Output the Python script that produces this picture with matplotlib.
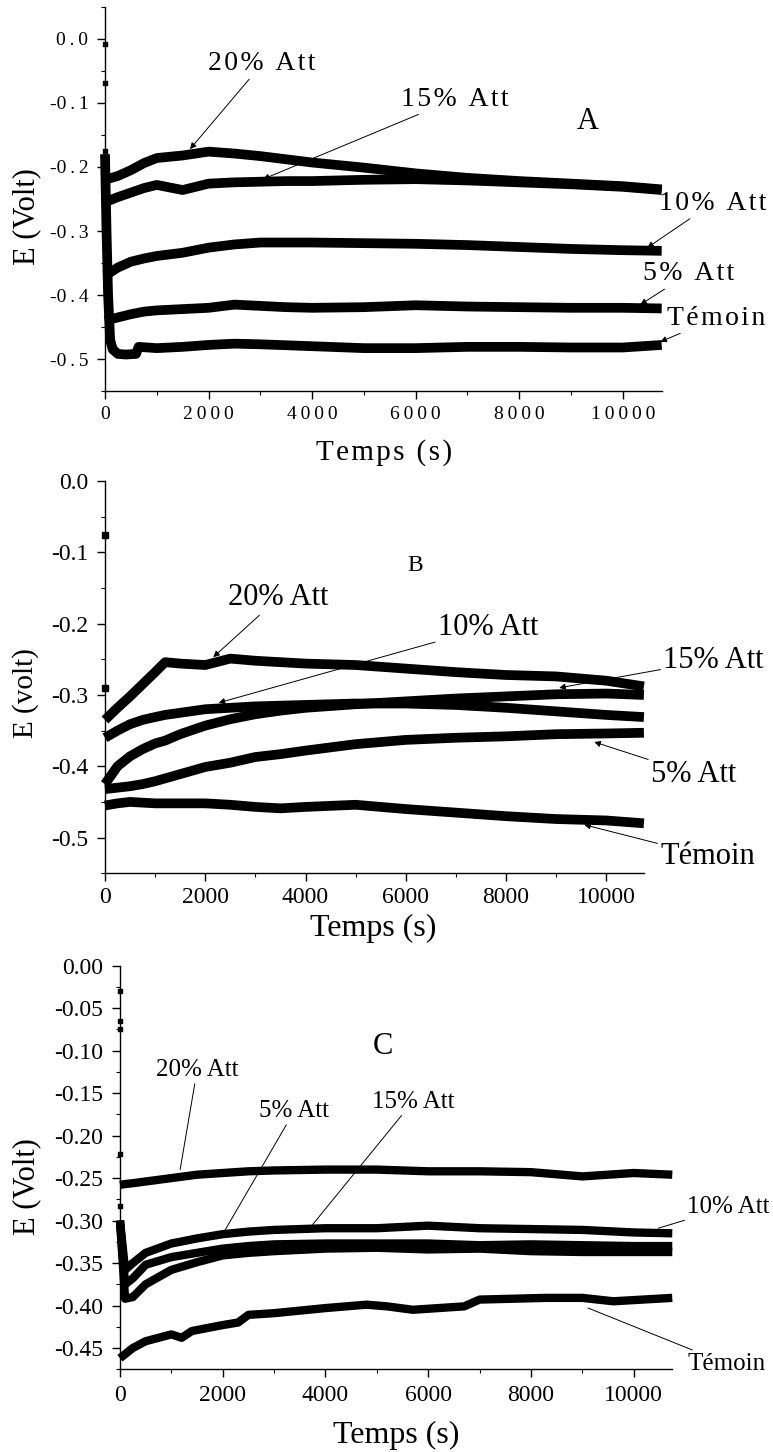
import matplotlib
matplotlib.use("Agg")
import matplotlib.pyplot as plt
from matplotlib.ticker import MultipleLocator, FuncFormatter

plt.rcParams['font.family'] = ['Liberation Serif', 'DejaVu Serif']
plt.rcParams['axes.unicode_minus'] = False

# ---- Panel A ----
tA = [0, 250, 500, 750, 1000, 1500, 2000, 2500, 3000, 3500, 4000, 5000, 6000, 7000, 8000, 9000, 10000, 10750]
a20 = [-0.220, -0.214, -0.205, -0.194, -0.186, -0.182, -0.176, -0.179, -0.183, -0.188, -0.193, -0.201, -0.210, -0.217, -0.222, -0.226, -0.230, -0.235]
a15 = [-0.255, -0.247, -0.240, -0.233, -0.228, -0.236, -0.226, -0.224, -0.223, -0.222, -0.222, -0.220, -0.219, -0.221, -0.224, -0.227, -0.231, -0.236]
a10 = [-0.370, -0.357, -0.348, -0.343, -0.339, -0.334, -0.326, -0.321, -0.318, -0.318, -0.318, -0.319, -0.320, -0.322, -0.325, -0.328, -0.330, -0.331]
a5 = [-0.440, -0.435, -0.430, -0.426, -0.424, -0.422, -0.420, -0.415, -0.417, -0.419, -0.420, -0.419, -0.416, -0.418, -0.419, -0.420, -0.420, -0.421]
tA0 = [0, 30, 60, 100, 150, 250, 400, 600, 650, 1000, 1500, 2000, 2500, 3000, 4000, 5000, 6000, 7000, 8000, 9000, 10000, 10750]
a0 = [-0.180, -0.300, -0.400, -0.470, -0.485, -0.492, -0.493, -0.492, -0.481, -0.483, -0.481, -0.478, -0.476, -0.477, -0.480, -0.483, -0.483, -0.481, -0.481, -0.482, -0.482, -0.478]
dotsA_t = [0, 0, 0]
dotsA_v = [-0.008, -0.068, -0.175]

# ---- Panel B ----
tB = [0, 250, 500, 750, 1000, 1200, 1500, 2000, 2500, 3000, 3500, 4000, 5000, 6000, 7000, 8000, 9000, 10000, 10750]
b20 = [-0.335, -0.318, -0.302, -0.285, -0.268, -0.254, -0.256, -0.258, -0.249, -0.252, -0.254, -0.256, -0.258, -0.263, -0.268, -0.272, -0.274, -0.280, -0.288]
b10 = [-0.360, -0.350, -0.341, -0.335, -0.331, -0.328, -0.325, -0.320, -0.318, -0.316, -0.315, -0.314, -0.312, -0.312, -0.314, -0.318, -0.323, -0.328, -0.331]
b15 = [-0.425, -0.400, -0.386, -0.376, -0.368, -0.364, -0.355, -0.343, -0.334, -0.327, -0.322, -0.318, -0.313, -0.309, -0.305, -0.302, -0.299, -0.298, -0.300]
b5 = [-0.432, -0.430, -0.428, -0.425, -0.421, -0.417, -0.411, -0.401, -0.395, -0.387, -0.383, -0.378, -0.369, -0.363, -0.360, -0.358, -0.355, -0.354, -0.353]
b0 = [-0.455, -0.452, -0.450, -0.451, -0.452, -0.452, -0.452, -0.452, -0.454, -0.457, -0.459, -0.457, -0.454, -0.460, -0.465, -0.470, -0.474, -0.476, -0.480]
dotsB_t = [0, 0]
dotsB_v = [-0.075, -0.290]

# ---- Panel C ----
tC = [0, 100, 250, 500, 1000, 1500, 2000, 2500, 3000, 4000, 5000, 6000, 7000, 8000, 9000, 10000, 10750]
c20 = [-0.258, -0.257, -0.256, -0.254, -0.250, -0.246, -0.244, -0.242, -0.241, -0.240, -0.240, -0.242, -0.242, -0.243, -0.248, -0.244, -0.246]
c15 = [-0.300, -0.358, -0.350, -0.338, -0.327, -0.321, -0.316, -0.313, -0.311, -0.309, -0.309, -0.306, -0.309, -0.310, -0.311, -0.314, -0.315]
c10 = [-0.300, -0.375, -0.368, -0.352, -0.343, -0.338, -0.333, -0.330, -0.328, -0.327, -0.327, -0.327, -0.329, -0.328, -0.329, -0.330, -0.330]
c5 = [-0.300, -0.392, -0.390, -0.375, -0.358, -0.349, -0.341, -0.338, -0.336, -0.333, -0.332, -0.334, -0.333, -0.336, -0.337, -0.337, -0.337]
tC0 = [0, 250, 500, 1000, 1200, 1400, 2000, 2300, 2500, 3000, 4000, 4800, 5200, 5700, 6700, 7000, 8300, 9000, 9600, 10750]
c0 = [-0.462, -0.450, -0.442, -0.434, -0.438, -0.430, -0.423, -0.420, -0.411, -0.409, -0.403, -0.399, -0.401, -0.405, -0.401, -0.393, -0.391, -0.391, -0.395, -0.391]
dotsC_t = [0, 0, 0, 0, 0]
dotsC_v = [-0.030, -0.065, -0.075, -0.222, -0.283]

fig = plt.figure(figsize=(7.73, 14.52), dpi=100)
axA = fig.add_axes([0.1358, 0.7307, 0.7202, 0.2645])
axB = fig.add_axes([0.1358, 0.3986, 0.6972, 0.2701])
axC = fig.add_axes([0.1552, 0.0570, 0.7145, 0.2779])

HAIR = "\u200a"


def spaced(s):
    # panel A uses letter-spaced labels
    if s.startswith('-'):
        return '-' + "\u2009".join(s[1:])
    return "\u2009".join(s)


def style(ax, ymin, ymax, ymaj, ymin_step, tsize, fmt, pad_x, pad_y):
    ax.set_xlim(0, 10750)
    ax.set_ylim(ymin, ymax)
    ax.spines['top'].set_visible(False)
    ax.spines['right'].set_visible(False)
    for s in ['left', 'bottom']:
        ax.spines[s].set_linewidth(1.0)
    ax.xaxis.set_major_locator(MultipleLocator(2000))
    ax.xaxis.set_minor_locator(MultipleLocator(1000))
    ax.yaxis.set_major_locator(MultipleLocator(ymaj))
    ax.yaxis.set_minor_locator(MultipleLocator(ymin_step))
    ax.yaxis.set_major_formatter(fmt)
    ax.tick_params(which='major', direction='out', length=6, width=1.0, labelsize=tsize)
    ax.tick_params(which='minor', direction='out', length=3, width=0.8)
    ax.tick_params(axis='x', pad=pad_x)
    ax.tick_params(axis='y', pad=pad_y)


def note(ax, text, xy, xytext, size, head=True):
    if head:
        props = dict(arrowstyle='-|>', lw=0.7, color='k', mutation_scale=9, shrinkA=0, shrinkB=0)
    else:
        props = dict(arrowstyle='-', lw=0.7, color='k', shrinkA=0, shrinkB=0)
    ax.annotate(text, xy=xy, xytext=xytext, ha='center', va='center', fontsize=size,
                arrowprops=props, annotation_clip=False)


# Panel A
for t, v in [(tA, a20), (tA, a15), (tA, a10), (tA, a5), (tA0, a0)]:
    axA.plot(t, v, color='k', lw=7, solid_capstyle='butt', clip_on=False)
axA.scatter(dotsA_t, dotsA_v, s=12, marker='s', color='k', clip_on=False)
style(axA, -0.55, 0.05, 0.1, 0.05, 14, FuncFormatter(lambda v, p: spaced(f"{v:.1f}")), 5, 6)
axA.xaxis.set_major_formatter(FuncFormatter(lambda v, p: spaced(f"{v:.0f}")))
axA.set_xlabel(HAIR.join("Temps (s)"), fontsize=21)
axA.set_ylabel("E (Volt)", fontsize=22)
axA.xaxis.set_label_coords(0.501, -0.159)
axA.xaxis.label.set_va('center')
axA.yaxis.set_label_coords(-0.140, 0.453)
axA.yaxis.label.set_va('center')
lab = lambda s: HAIR.join(s)
note(axA, lab("20% Att"), (1643, -0.172), (3034, -0.039), 20)
note(axA, lab("15% Att"), (3053, -0.219), (6763, -0.094), 20)
axA.text(9314, -0.1285, "A", ha='center', va='center', fontsize=22)
note(axA, lab("10% Att"), (10473, -0.326), (11729, -0.257), 20)
note(axA, lab("5% Att"), (10338, -0.415), (11266, -0.367), 20)
note(axA, lab("Témoin"), (10725, -0.473), (11807, -0.436), 20)

# Panel B
for v in [b20, b10, b15, b5, b0]:
    axB.plot(tB, v, color='k', lw=7, solid_capstyle='butt', clip_on=False)
axB.scatter(dotsB_t, dotsB_v, s=14, marker='s', color='k', clip_on=False)
style(axB, -0.55, 0.0, 0.1, 0.05, 17, FuncFormatter(lambda v, p: f"{v:.1f}"), 4, 6)
axB.set_xlabel("Temps (s)", fontsize=23)
axB.set_ylabel("E (volt)", fontsize=21)
axB.xaxis.set_label_coords(0.497, -0.140)
axB.xaxis.label.set_va('center')
axB.yaxis.set_label_coords(-0.1466, 0.46)
axB.yaxis.label.set_va('center')
axB.text(6180, -0.118, "B", ha='center', va='center', fontsize=17)
note(axB, "20% Att", (2160, -0.247), (3460, -0.164), 22)
note(axB, "10% Att", (2267, -0.311), (7640, -0.205), 22)
note(axB, "15% Att", (9060, -0.290), (12140, -0.251), 22)
note(axB, "5% Att", (9760, -0.366), (11740, -0.411), 22)
note(axB, "Témoin", (9560, -0.482), (12020, -0.526), 22)

# Panel C
for t, v in [(tC, c20), (tC, c15), (tC, c10), (tC, c5), (tC0, c0)]:
    axC.plot(t, v, color='k', lw=6, solid_capstyle='butt', clip_on=False)
axC.scatter(dotsC_t, dotsC_v, s=12, marker='s', color='k', clip_on=False)
style(axC, -0.475, 0.0, 0.05, 0.025, 17, FuncFormatter(lambda v, p: f"{v:.2f}"), 5, 6)
axC.set_xlabel("Temps (s)", fontsize=23)
axC.set_ylabel("E (Volt)", fontsize=22)
axC.xaxis.set_label_coords(0.50, -0.163)
axC.xaxis.label.set_va('center')
axC.yaxis.set_label_coords(-0.168, 0.452)
axC.yaxis.label.set_va('center')
axC.text(5112, -0.0956, "C", ha='center', va='center', fontsize=22)
note(axC, "20% Att", (1171, -0.240), (1502, -0.1227), 18, head=False)
note(axC, "5% Att", (1990, -0.317), (3395, -0.171), 18, head=False)
note(axC, "15% Att", (3746, -0.305), (5700, -0.160), 18, head=False)
note(axC, "10% Att", (10478, -0.309), (11844, -0.284), 18, head=False)
note(axC, "Témoin", (9112, -0.403), (11805, -0.4685), 18, head=False)

fig.savefig("out.png", dpi=100)
